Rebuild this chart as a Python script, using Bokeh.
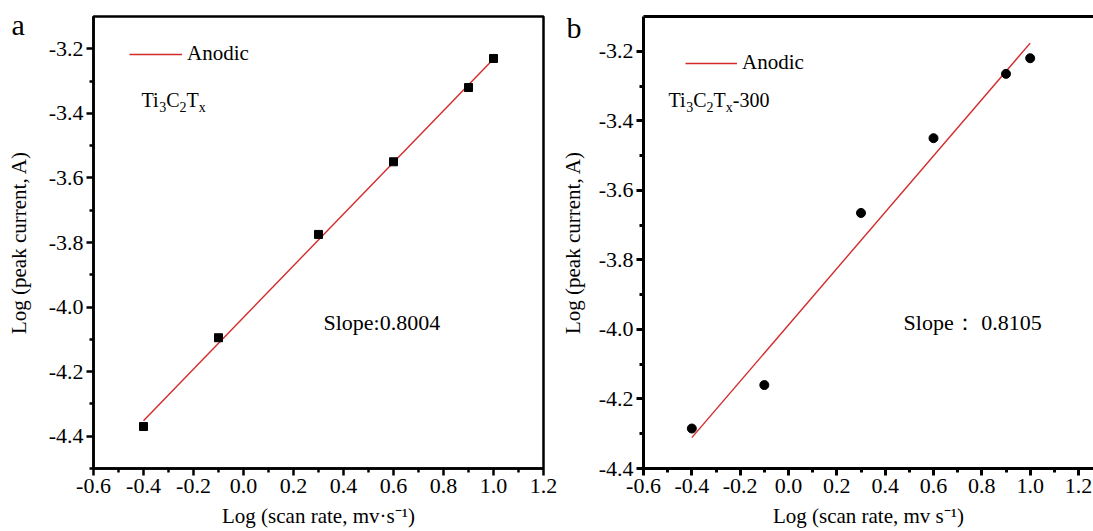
from bokeh.plotting import figure
from bokeh.layouts import row
from bokeh.models import (FixedTicker, PrintfTickFormatter, LinearAxis,
                          Label, Range1d)
from bokeh.embed import file_html
from bokeh.resources import INLINE

# ---- data -------------------------------------------------------------
log_scan_rate = [-0.4, -0.1, 0.3, 0.6, 0.9, 1.0]

# Ti3C2Tx
peak_a = [-4.37, -4.095, -3.775, -3.55, -3.32, -3.23]
slope_a = 0.8004
intercept_a = -4.032

# Ti3C2Tx-300
peak_b = [-4.285, -4.16, -3.665, -3.45, -3.265, -3.22]
slope_b = 0.8105
intercept_b = -3.987

# axis ticks
x_ticks = [-0.6, -0.4, -0.2, 0.0, 0.2, 0.4, 0.6, 0.8, 1.0, 1.2]
x_minor = [-0.5, -0.3, -0.1, 0.1, 0.3, 0.5, 0.7, 0.9, 1.1]
y_ticks = [-4.4, -4.2, -4.0, -3.8, -3.6, -3.4, -3.2]
y_minor = [-4.5, -4.3, -4.1, -3.9, -3.7, -3.5, -3.3]

FONT = "Liberation Serif"
RED = "#d42a2a"

# Times-metric advance widths (per 1000 em) used to lay out sub-scripted formulas
ADV = {"T": 611, "i": 278, "C": 667, "x": 500, "-": 333,
       "0": 500, "2": 500, "3": 500}


def text_width(s, size):
    return sum(ADV.get(c, 500) for c in s) * size / 1000.0


def formula(p, x, y, parts, size=20, sub_size=14, sub_drop=7):
    off = 0.0
    for txt, sub in parts:
        fs = sub_size if sub else size
        p.add_layout(Label(x=x, y=y, x_offset=off, y_offset=-sub_drop if sub else 0,
                           text=txt, text_font=FONT, text_font_size=f"{fs}px",
                           text_color="black", text_baseline="alphabetic",
                           text_align="left"))
        off += text_width(txt, fs)


def make_panel(width, y_range, x_end, border_left, border_right, line_w,
               y_title_standoff):
    p = figure(width=width, height=531, x_range=Range1d(-0.6, x_end),
               y_range=Range1d(*y_range), output_backend="svg",
               toolbar_location=None, min_border_left=border_left,
               min_border_right=border_right, min_border_top=16,
               min_border_bottom=63)
    p.grid.visible = False
    p.background_fill_color = "white"
    p.border_fill_color = "white"
    p.xaxis[0].ticker = FixedTicker(ticks=x_ticks, minor_ticks=x_minor)
    p.yaxis[0].ticker = FixedTicker(ticks=y_ticks, minor_ticks=y_minor)
    for ax in (p.xaxis[0], p.yaxis[0]):
        ax.formatter = PrintfTickFormatter(format="%.1f")
        ax.axis_line_width = line_w
        ax.axis_line_color = "black"
        ax.major_tick_line_width = line_w
        ax.minor_tick_line_width = line_w
        ax.major_tick_out = 7
        ax.major_tick_in = 0
        ax.minor_tick_out = 4
        ax.minor_tick_in = 0
        ax.major_label_text_font = FONT
        ax.major_label_text_font_size = "22px"
        ax.major_label_text_color = "black"
        ax.axis_label_text_font = FONT
        ax.axis_label_text_font_size = "21px"
        ax.axis_label_text_font_style = "normal"
        ax.axis_label_text_color = "black"
    p.xaxis[0].major_label_standoff = 3
    p.xaxis[0].axis_label_standoff = 8
    p.yaxis[0].major_label_standoff = 3
    p.yaxis[0].axis_label_standoff = y_title_standoff
    p.yaxis[0].axis_label = "Log (peak current, A)"
    return p


def style_legend(p, loc, glyph_w):
    lg = p.legend[0]
    lg.location = loc
    lg.border_line_color = None
    lg.background_fill_alpha = 0
    lg.padding = 0
    lg.margin = 0
    lg.spacing = 0
    lg.glyph_width = glyph_w
    lg.glyph_height = 20
    lg.label_height = 20
    lg.label_standoff = 5
    lg.label_text_font = FONT
    lg.label_text_font_size = "21px"
    lg.label_text_color = "black"


def panel_letter(p, letter, x, y, side):
    # kept in a side panel so that it is not clipped to the plot frame
    p.add_layout(Label(x=x, y=y, x_units="canvas", y_units="canvas",
                       text=letter, text_font=FONT, text_font_size="30px",
                       text_color="black", text_baseline="alphabetic"), side)


# ---- panel a ----------------------------------------------------------
pa = make_panel(558, (-4.5, -3.1), 1.2, 93, 15, 2.5, 15)
pa.xaxis[0].axis_label = "Log (scan rate, mv\u00b7s\u207b\u00b9)"
pa.outline_line_color = "black"
pa.outline_line_width = 2.5
pa.outline_line_alpha = 1

xa = [min(log_scan_rate), max(log_scan_rate)]
pa.line(xa, [intercept_a + slope_a * v for v in xa], line_color=RED,
        line_width=1.4, legend_label="Anodic")
pa.scatter(log_scan_rate, peak_a, marker="square", size=8, color="black")
style_legend(pa, (36, 402), 53)

formula(pa, -0.408, -3.360, [("Ti", 0), ("3", 1), ("C", 0), ("2", 1),
                             ("T", 0), ("x", 1)])
pa.add_layout(Label(x=0.32, y=-4.048, text=f"Slope:{slope_a:.4f}",
                    text_font=FONT, text_font_size="22px", text_color="black",
                    text_baseline="middle"))
panel_letter(pa, "a", 11, 24, "right")

# ---- panel b ----------------------------------------------------------
# panel b starts a little to the left of panel a's edge; its border is
# transparent so panel a's last tick label stays visible underneath
B_LEFT = 103
b_start = 643 - B_LEFT
pb = make_panel(1093 - b_start, (-4.4, -3.1), 1.262, B_LEFT, 0, 3, 11)
pb.margin = (0, 0, 0, b_start - 558)
pb.border_fill_alpha = 0
pb.xaxis[0].axis_label = "Log (scan rate, mv s\u207b\u00b9)"
pb.outline_line_color = None
top = LinearAxis(ticker=FixedTicker(ticks=[]), major_tick_line_color=None,
                 minor_tick_line_color=None, axis_line_width=3,
                 axis_line_color="black")
pb.add_layout(top, "above")

xb = [min(log_scan_rate), max(log_scan_rate)]
pb.line(xb, [intercept_b + slope_b * v for v in xb], line_color=RED,
        line_width=1.4, legend_label="Anodic")
pb.scatter(log_scan_rate, peak_b, marker="circle", size=9, color="black")
style_legend(pb, (42, 393), 52)

formula(pb, -0.4966, -3.341, [("Ti", 0), ("3", 1), ("C", 0), ("2", 1),
                              ("T", 0), ("x", 1), ("-300", 0)])
pb.add_layout(Label(x=0.476, y=-3.979, text=f"Slope\uff1a {slope_b:.4f}",
                    text_font=FONT, text_font_size="22px", text_color="black",
                    text_baseline="middle"))
panel_letter(pb, "b", 566 - b_start, 27, "left")

layout = row(pa, pb, spacing=0)
open("out.html", "w").write(file_html(layout, INLINE))
